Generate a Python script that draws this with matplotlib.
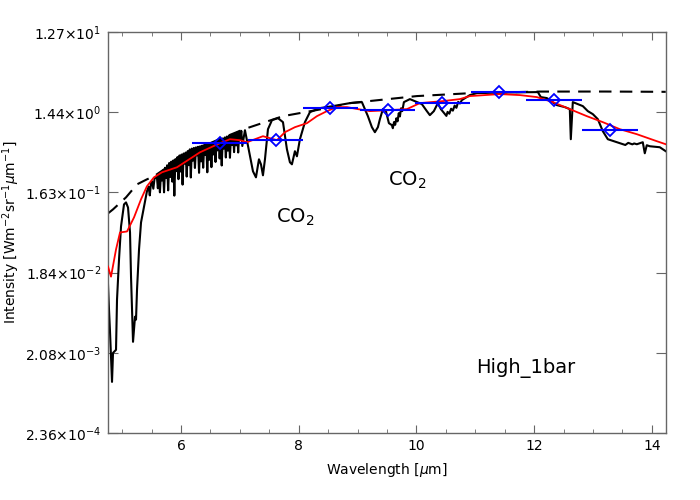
import numpy as np
import matplotlib
matplotlib.use('Agg')
import matplotlib.pyplot as plt
from matplotlib.ticker import FixedLocator, MultipleLocator, NullLocator

# high resolution spectrum (wavelength [um], intensity)
spectrum = [
    (4.760, 0.0133), (4.777, 0.00673), (4.794, 0.00370), (4.811, 0.00187),
    (4.828, 0.000946), (4.845, 0.00208), (4.896, 0.00226), (4.913, 0.00884),
    (4.947, 0.0263), (4.981, 0.0645), (5.032, 0.1175), (5.066, 0.124),
    (5.100, 0.108), (5.134, 0.0548), (5.151, 0.0165), (5.185, 0.00281),
    (5.219, 0.00556), (5.236, 0.00513), (5.253, 0.0116), (5.287, 0.0345),
    (5.321, 0.0719), (5.372, 0.111), (5.421, 0.167), (5.45, 0.19),
    (5.47, 0.15), (5.49, 0.21), (5.507, 0.220), (5.53, 0.18), (5.55, 0.235),
    (5.575, 0.245),
    # dense water lines
    (5.590, 0.252), (5.607, 0.182), (5.625, 0.266), (5.642, 0.163),
    (5.660, 0.280), (5.677, 0.225), (5.695, 0.297), (5.712, 0.163),
    (5.730, 0.318), (5.747, 0.242), (5.765, 0.340), (5.782, 0.172),
    (5.800, 0.362), (5.817, 0.247), (5.835, 0.375), (5.852, 0.218),
    (5.870, 0.388), (5.887, 0.149), (5.905, 0.402), (5.922, 0.290),
    (5.940, 0.425), (5.957, 0.233), (5.975, 0.444), (5.992, 0.287),
    (6.010, 0.455), (6.027, 0.201), (6.045, 0.468), (6.062, 0.356),
    (6.080, 0.480), (6.097, 0.250), (6.115, 0.500), (6.132, 0.341),
    (6.150, 0.524), (6.167, 0.244), (6.185, 0.535), (6.202, 0.386),
    (6.220, 0.545), (6.237, 0.316), (6.255, 0.553), (6.272, 0.445),
    (6.290, 0.562), (6.307, 0.277), (6.325, 0.570), (6.342, 0.378),
    (6.360, 0.580), (6.377, 0.318), (6.395, 0.592), (6.412, 0.450),
    (6.430, 0.602), (6.447, 0.281), (6.465, 0.612), (6.482, 0.395),
    (6.500, 0.622), (6.517, 0.323), (6.535, 0.632), (6.552, 0.456),
    (6.570, 0.642), (6.587, 0.372), (6.605, 0.652), (6.622, 0.510),
    (6.640, 0.668), (6.657, 0.409), (6.675, 0.686), (6.692, 0.338),
    (6.710, 0.704), (6.727, 0.535), (6.745, 0.724), (6.762, 0.420),
    (6.780, 0.742), (6.797, 0.506), (6.815, 0.760), (6.832, 0.417),
    (6.850, 0.776), (6.867, 0.590), (6.885, 0.794), (6.902, 0.486),
    (6.920, 0.810), (6.937, 0.584), (6.955, 0.830), (6.972, 0.481),
    (6.990, 0.852), (7.007, 0.685), (7.025, 0.866), (7.042, 0.574),
    (7.087, 0.882),
    # CO2 bands and window
    (7.172, 0.435), (7.223, 0.289), (7.274, 0.245), (7.325, 0.400),
    (7.359, 0.349), (7.393, 0.259), (7.427, 0.400), (7.478, 0.906),
    (7.546, 1.158), (7.648, 1.223), (7.733, 1.097), (7.800, 0.526),
    (7.851, 0.369), (7.885, 0.349), (7.936, 0.498), (7.970, 0.434),
    (8.021, 0.690), (8.106, 1.097), (8.191, 1.440), (8.361, 1.606),
    (8.582, 1.696), (8.871, 1.840), (9.074, 1.891), (9.176, 1.291),
    (9.244, 0.957), (9.295, 0.835), (9.346, 0.957), (9.380, 1.190),
    (9.431, 1.563), (9.482, 1.480), (9.533, 1.067), (9.584, 1.011),
    (9.60, 0.93), (9.62, 1.10), (9.64, 1.02), (9.66, 1.22), (9.68, 1.12),
    (9.70, 1.40), (9.72, 1.28), (9.74, 1.60), (9.76, 1.48), (9.788, 1.891),
    (9.890, 2.052), (10.093, 1.791), (10.178, 1.480), (10.229, 1.327),
    (10.297, 1.480), (10.365, 1.840), (10.416, 1.563), (10.484, 1.364),
    (10.51, 1.30), (10.53, 1.45), (10.56, 1.38), (10.59, 1.58),
    (10.62, 1.50), (10.65, 1.72), (10.68, 1.62), (10.71, 1.90),
    (10.74, 1.82), (10.773, 1.997), (10.909, 2.288), (11.028, 2.416),
    (11.418, 2.45), (12.064, 2.483), (12.115, 2.167), (12.217, 2.109),
    (12.387, 1.743), (12.522, 1.651), (12.607, 1.563), (12.624, 0.690),
    (12.658, 1.891), (12.828, 1.696), (12.913, 1.480), (12.998, 1.364),
    (13.083, 1.190), (13.168, 0.858), (13.253, 0.690), (13.406, 0.636),
    (13.508, 0.602), (13.55, 0.59), (13.60, 0.625), (13.67, 0.60),
    (13.70, 0.615), (13.746, 0.602), (13.847, 0.636), (13.881, 0.471),
    (13.915, 0.586), (13.966, 0.570), (14.136, 0.555), (14.238, 0.498),
]

# smoothed model (red)
smooth_wl = [4.760, 4.811, 4.896, 4.964, 5.083, 5.202, 5.321, 5.421, 5.541,
             5.677, 5.932, 6.323, 6.662, 6.832, 7.002, 7.121, 7.393, 7.631,
             7.766, 7.936, 8.140, 8.310, 8.480, 8.650, 8.820, 9.006, 9.210,
             9.550, 9.839, 10.059, 10.450, 10.739, 10.909, 11.418, 11.758,
             12.047, 12.318, 12.607, 12.896, 13.168, 13.457, 13.746, 14.085,
             14.238]
smooth_int = [0.0217, 0.0165, 0.0345, 0.0548, 0.0563, 0.0825, 0.135, 0.192,
              0.245, 0.281, 0.322, 0.484, 0.619, 0.690, 0.672, 0.636, 0.749,
              0.672, 0.835, 0.957, 1.067, 1.291, 1.480, 1.651, 1.651, 1.563,
              1.480, 1.521, 1.563, 1.840, 1.943, 2.052, 2.227, 2.351, 2.288,
              2.167, 1.891, 1.563, 1.291, 1.097, 0.906, 0.791, 0.654, 0.602]

# blackbody envelope (dashed)
bb_wl = [4.760, 4.845, 5.066, 5.253, 5.421, 5.541, 5.813, 6.153, 6.611,
         7.070, 7.733, 8.582, 8.871, 10.008, 10.943, 12.098, 13.200, 14.238]
bb_int = [0.0920, 0.1026, 0.1422, 0.2025, 0.232, 0.252, 0.340, 0.484, 0.672,
          0.906, 1.291, 1.651, 1.840, 2.227, 2.416, 2.517, 2.52, 2.50]

# binned values (blue)
bin_wl = [6.66, 7.61, 8.54, 9.51, 10.44, 11.40, 12.34, 13.29]
bin_int = [0.619, 0.672, 1.606, 1.521, 1.840, 2.483, 1.997, 0.882]
bin_halfwidth = [0.47, 0.47, 0.47, 0.47, 0.47, 0.47, 0.47, 0.47]

ytick_vals = [2.36e-4, 2.08e-3, 1.84e-2, 1.63e-1, 1.44, 1.27e1]
ytick_labels = ['2.36×10$^{-4}$', '2.08×10$^{-3}$', '1.84×10$^{-2}$',
                '1.63×10$^{-1}$', '1.44×10$^{0}$', '1.27×10$^{1}$']

fig = plt.figure(figsize=(7, 5), dpi=100)
ax = fig.add_axes([0.1543, 0.134, 0.797, 0.802])

spec = np.array(spectrum)
ax.plot(spec[:, 0], spec[:, 1], color='black', lw=1.5, zorder=2)
ax.plot(bb_wl, bb_int, color='black', lw=1.5, ls='--', dashes=(6, 4), zorder=2)
ax.plot(smooth_wl, smooth_int, color='red', lw=1.3, zorder=3)
ax.errorbar(bin_wl, bin_int, xerr=bin_halfwidth, fmt='D', mfc='none',
            mec='blue', ecolor='blue', ms=6, mew=1.3, elinewidth=1.5,
            capsize=0, zorder=4)

ax.set_yscale('log')
ax.set_xlim(4.76, 14.24)
ax.set_ylim(2.36e-4, 1.27e1)
ax.yaxis.set_major_locator(FixedLocator(ytick_vals))
ax.yaxis.set_minor_locator(NullLocator())
ax.set_yticklabels(ytick_labels)
ax.xaxis.set_major_locator(MultipleLocator(2))
ax.xaxis.set_minor_locator(MultipleLocator(0.5))

for s in ax.spines.values():
    s.set_color('#666666')
    s.set_linewidth(1.0)
ax.tick_params(which='both', direction='in', top=True, right=True,
               color='#666666', labelsize=10, labelcolor='black')
ax.tick_params(axis='x', which='major', length=6, pad=4)
ax.tick_params(axis='x', which='minor', length=3)
ax.tick_params(axis='y', which='major', length=7, pad=5)

ax.set_xlabel(r'Wavelength [$\mu$m]', fontsize=10, labelpad=6)
ax.set_ylabel(r'Intensity [Wm$^{-2}$sr$^{-1}$$\mu$m$^{-1}$]', fontsize=10)
ax.yaxis.set_label_coords(-0.155, 0.5)

ax.text(7.61, 0.0825, r'CO$_2$', fontsize=14, va='center', ha='left')
ax.text(9.52, 0.226, r'CO$_2$', fontsize=14, va='center', ha='left')
ax.text(11.01, 0.00139, 'High_1bar', fontsize=14, va='center', ha='left')

fig.savefig('out.png', dpi=100)
